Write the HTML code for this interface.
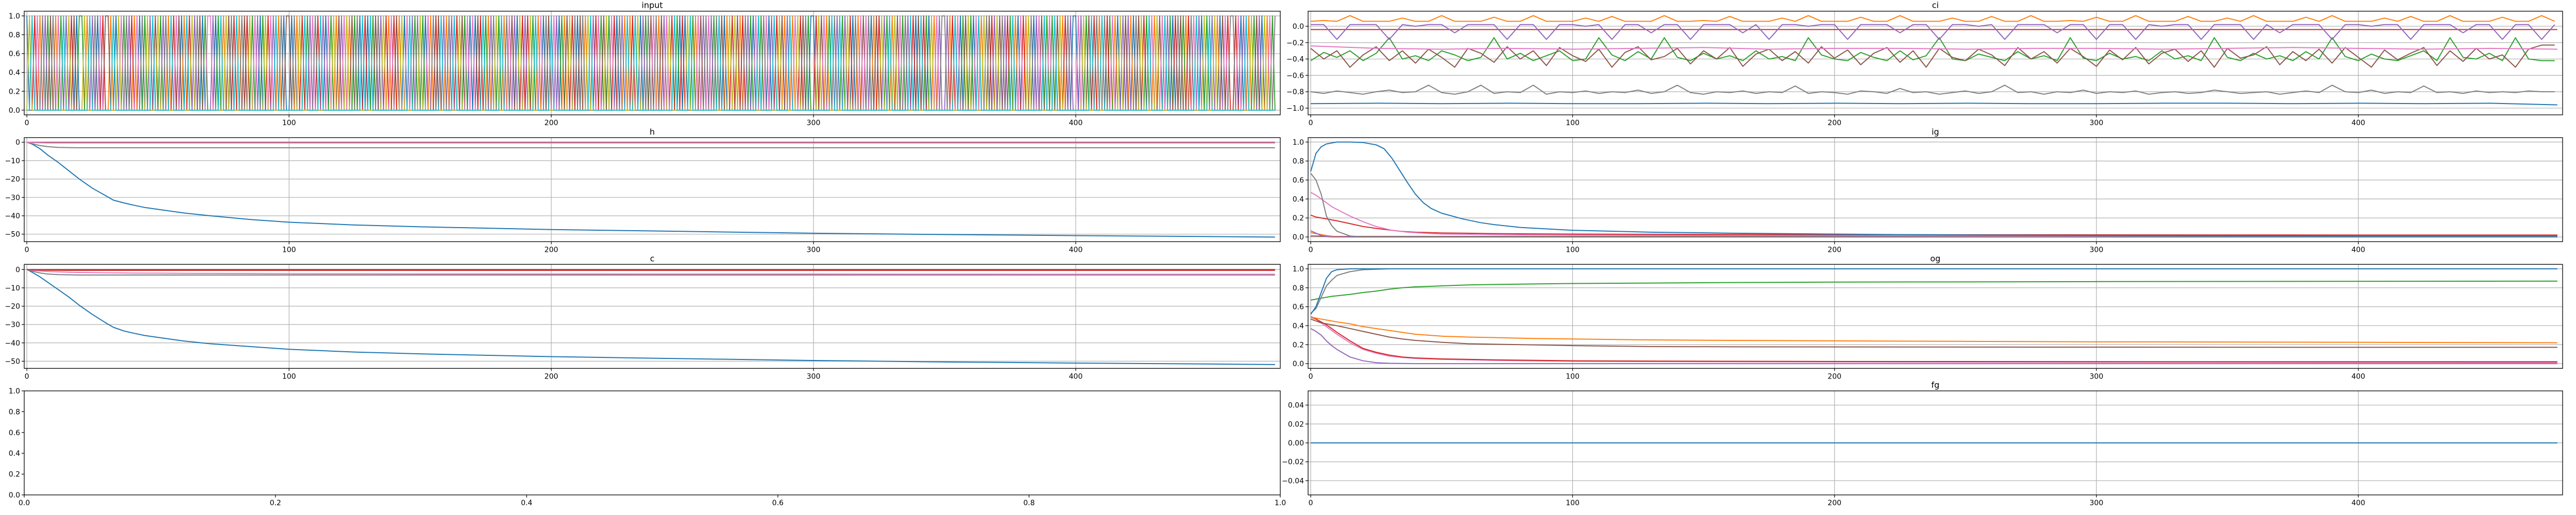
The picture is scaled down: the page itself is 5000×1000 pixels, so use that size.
<!DOCTYPE html>
<html><head><meta charset="utf-8"><style>
html,body{margin:0;padding:0;background:#fff;}
svg{display:block;font-family:"DejaVu Sans","Liberation Sans",sans-serif;}
</style></head>
<body>
<svg id="fig" width="5000" height="1000" viewBox="0 0 5000 1000" xmlns="http://www.w3.org/2000/svg"></svg>
<script>
// ---------- data ----------
const xTicksSteps = [0,100,200,300,400];
const inputIdx = ("0893617425716294835022819470635519086274316072849582471936501938475026640291857391753826402836491705"+
"5071839246739406281546815270930925748316351806942782061735941749385260605392147829176540834382916075"+
"9640215837057189436258263074191398042756715468392030892165476427950183851374206927604938514916835720"+
"0385612974924830716567015384291856274930593208164774139602582069187534857432910631870465926295813740"+
"06482593719732610845410758329618569420375213769408294810563773604918254081627359").slice(0,477).split("").map(Number);
const inputChannels = [0,1,2,3,4,5,6,7,8,9];

const ciStep = 5;
const ciOrange = [0.06,0.07,0.06,0.13,0.06,0.06,0.06,0.10,0.06,0.06,0.13,0.06,0.06,0.06,0.11,0.06,0.06,0.13,0.06,0.06,0.06,0.10,0.06,0.12,0.06,0.06,0.06,0.13,0.06,0.06,0.07,0.06,0.12,0.06,0.06,0.06,0.10,0.06,0.13,0.06,0.06,0.06,0.11,0.06,0.06,0.13,0.06,0.06,0.06,0.10,0.06,0.06,0.12,0.06,0.06,0.13,0.06,0.06,0.07,0.06,0.11,0.06,0.06,0.13,0.06,0.06,0.06,0.12,0.06,0.06,0.10,0.06,0.13,0.06,0.06,0.06,0.11,0.06,0.13,0.06,0.06,0.06,0.10,0.06,0.12,0.06,0.06,0.13,0.06,0.06,0.06,0.11,0.06,0.06,0.13,0.06];
const ciPurple = [0.02,0.02,-0.16,0.02,0.02,0.02,-0.16,0.02,0.0,0.02,0.02,-0.08,0.02,0.02,0.02,-0.16,0.02,0.02,-0.16,0.02,0.02,0.0,0.02,-0.16,0.02,0.02,-0.08,0.02,0.02,-0.16,0.02,0.02,0.02,-0.08,0.02,-0.16,0.02,0.02,0.0,0.02,0.02,-0.16,0.02,0.02,0.02,-0.08,0.02,0.02,-0.16,0.02,0.02,0.0,0.02,-0.16,0.02,0.02,0.02,-0.08,0.02,0.02,-0.16,0.02,0.02,-0.16,0.02,0.0,0.02,0.02,-0.16,0.02,0.02,0.02,-0.16,0.02,-0.08,0.02,0.02,0.02,-0.16,0.02,0.02,0.0,0.02,0.02,-0.16,0.02,0.02,0.02,-0.08,0.02,0.02,-0.16,0.02,0.02,-0.16,0.02];
const ciBrown = [-0.27,-0.40,-0.30,-0.50,-0.35,-0.25,-0.42,-0.30,-0.45,-0.28,-0.38,-0.50,-0.27,-0.33,-0.44,-0.25,-0.40,-0.30,-0.48,-0.26,-0.36,-0.43,-0.28,-0.50,-0.32,-0.25,-0.41,-0.37,-0.27,-0.46,-0.30,-0.40,-0.26,-0.49,-0.34,-0.28,-0.42,-0.31,-0.45,-0.25,-0.39,-0.29,-0.47,-0.33,-0.26,-0.44,-0.30,-0.50,-0.27,-0.38,-0.42,-0.28,-0.35,-0.48,-0.26,-0.40,-0.31,-0.45,-0.27,-0.37,-0.49,-0.29,-0.41,-0.26,-0.46,-0.33,-0.28,-0.43,-0.30,-0.50,-0.27,-0.39,-0.35,-0.25,-0.47,-0.31,-0.42,-0.28,-0.45,-0.26,-0.38,-0.50,-0.29,-0.41,-0.33,-0.26,-0.48,-0.30,-0.43,-0.27,-0.40,-0.35,-0.50,-0.28,-0.23,-0.23];
const ciGreen = [-0.42,-0.32,-0.38,-0.30,-0.42,-0.33,-0.14,-0.40,-0.36,-0.42,-0.30,-0.35,-0.42,-0.38,-0.14,-0.40,-0.33,-0.42,-0.36,-0.30,-0.42,-0.40,-0.14,-0.35,-0.42,-0.31,-0.40,-0.14,-0.38,-0.42,-0.33,-0.40,-0.36,-0.42,-0.30,-0.40,-0.37,-0.42,-0.14,-0.35,-0.40,-0.42,-0.32,-0.38,-0.42,-0.30,-0.41,-0.36,-0.14,-0.40,-0.42,-0.34,-0.38,-0.42,-0.31,-0.40,-0.36,-0.42,-0.14,-0.39,-0.42,-0.33,-0.40,-0.37,-0.42,-0.30,-0.40,-0.36,-0.42,-0.14,-0.38,-0.42,-0.33,-0.40,-0.36,-0.42,-0.31,-0.40,-0.14,-0.37,-0.42,-0.34,-0.40,-0.42,-0.36,-0.30,-0.42,-0.14,-0.38,-0.40,-0.33,-0.42,-0.14,-0.40,-0.42,-0.42];
const ciGray = [-0.80,-0.82,-0.79,-0.81,-0.83,-0.80,-0.78,-0.81,-0.80,-0.72,-0.81,-0.83,-0.80,-0.72,-0.82,-0.80,-0.81,-0.72,-0.83,-0.80,-0.81,-0.79,-0.82,-0.80,-0.81,-0.78,-0.82,-0.80,-0.72,-0.81,-0.83,-0.80,-0.81,-0.79,-0.82,-0.80,-0.81,-0.73,-0.82,-0.80,-0.81,-0.83,-0.79,-0.80,-0.82,-0.76,-0.81,-0.80,-0.83,-0.81,-0.79,-0.82,-0.80,-0.72,-0.81,-0.80,-0.83,-0.80,-0.81,-0.78,-0.82,-0.80,-0.81,-0.79,-0.83,-0.81,-0.80,-0.82,-0.81,-0.78,-0.80,-0.82,-0.81,-0.80,-0.83,-0.81,-0.79,-0.81,-0.72,-0.80,-0.81,-0.78,-0.82,-0.80,-0.81,-0.73,-0.81,-0.80,-0.82,-0.79,-0.81,-0.80,-0.81,-0.79,-0.80,-0.80];
const ciSlowStep = 25;
const ciPink = [-0.24,-0.27,-0.28,-0.27,-0.28,-0.27,-0.26,-0.28,-0.27,-0.27,-0.28,-0.27,-0.27,-0.28,-0.27,-0.26,-0.27,-0.28,-0.27,-0.28];
const ciRed = [-0.04,-0.04,-0.04,-0.04,-0.04,-0.04,-0.04,-0.04,-0.04,-0.04,-0.04,-0.04,-0.04,-0.04,-0.04,-0.04,-0.04,-0.04,-0.04,-0.04];
const ciBlue = [-0.945,-0.94,-0.945,-0.94,-0.945,-0.945,-0.94,-0.945,-0.94,-0.945,-0.94,-0.945,-0.945,-0.94,-0.94,-0.945,-0.94,-0.945,-0.94,-0.96];

const hX = [0,2,5,8,12,16,20,25,30,33,37,40,45,50,60,70,85,100,125,150,200,250,300,350,400,450,476];
const hBlue = [0,-1,-3.5,-7,-11,-15.5,-20,-25,-29,-31.5,-33,-34,-35.5,-36.5,-38.5,-40,-42,-43.5,-45,-46,-47.5,-48.5,-49.5,-50.2,-50.8,-51.3,-51.6];
const hGray = [0,-0.8,-1.8,-2.4,-2.8,-2.9,-3,-3,-3,-3,-3,-3,-3,-3,-3,-3,-3,-3,-3,-3,-3,-3,-3,-3,-3,-3,-3];
const hPink = [0,-0.2,-0.3,-0.4,-0.4,-0.4,-0.4,-0.4,-0.4,-0.4,-0.4,-0.4,-0.4,-0.4,-0.4,-0.4,-0.4,-0.4,-0.4,-0.4,-0.4,-0.4,-0.4,-0.4,-0.4,-0.4,-0.4];
const hBrown = [0,0,0,0,0,0,0,0,0,0,0,0,0,0,0,0,0,0,0,0,0,0,0,0,0,0,0];

const cBlue = [0,-1.5,-4,-7,-11,-15,-19.5,-24.5,-29,-31.5,-33.5,-34.5,-36,-37,-39,-40.5,-42,-43.5,-45,-46,-47.5,-48.6,-49.6,-50.4,-51,-51.5,-51.8];
const cGray = [0,-0.9,-1.9,-2.5,-2.8,-2.9,-3,-3,-3,-3,-3,-3,-3,-3,-3,-3,-3,-3,-3,-3,-3,-3,-3,-3,-3,-3,-3];
const cPink = [0,-0.4,-0.8,-1.1,-1.3,-1.5,-1.6,-1.7,-1.8,-1.85,-1.9,-1.95,-2,-2,-2.1,-2.15,-2.2,-2.3,-2.35,-2.4,-2.45,-2.5,-2.5,-2.55,-2.6,-2.6,-2.6];
const cRed = [0,-0.2,-0.3,-0.4,-0.45,-0.5,-0.5,-0.5,-0.5,-0.5,-0.5,-0.5,-0.5,-0.5,-0.5,-0.5,-0.5,-0.5,-0.5,-0.5,-0.5,-0.5,-0.5,-0.5,-0.5,-0.5,-0.5];
const cBrown = [0,0,0,0,0,0,0,0,0,0,0,0,0,0,0,0,0,0,0,0,0,0,0,0,0,0,0];

const igX = [0,2,4,6,8,10,15,20,25,28,31,34,37,40,43,46,50,58,65,70,80,100,130,160,200,250,300,350,400,476];
const igBlue = [0.69,0.88,0.95,0.98,0.99,1.0,1.0,0.995,0.97,0.93,0.83,0.70,0.57,0.45,0.36,0.30,0.25,0.19,0.15,0.13,0.10,0.07,0.05,0.04,0.03,0.02,0.015,0.012,0.01,0.01];
const igGray = [0.67,0.6,0.45,0.22,0.12,0.06,0.01,0,0,0,0,0,0,0,0,0,0,0,0,0,0,0,0,0,0,0,0,0,0,0];
const igPink = [0.47,0.44,0.40,0.36,0.32,0.29,0.22,0.16,0.11,0.09,0.07,0.06,0.05,0.045,0.04,0.035,0.03,0.028,0.026,0.025,0.022,0.02,0.018,0.016,0.014,0.012,0.011,0.01,0.01,0.01];
const igRed = [0.23,0.21,0.2,0.19,0.18,0.17,0.14,0.11,0.09,0.08,0.07,0.06,0.055,0.05,0.048,0.045,0.042,0.04,0.037,0.035,0.033,0.03,0.028,0.026,0.025,0.023,0.022,0.021,0.02,0.02];
const igPurple = [0.065,0.04,0.015,0.005,0,0,0,0,0,0,0,0,0,0,0,0,0,0,0,0,0,0,0,0,0,0,0,0,0,0];
const igOrange = [0.045,0.035,0.025,0.015,0.008,0.004,0,0,0,0,0,0,0,0,0,0,0,0,0,0,0,0,0,0,0,0,0,0,0,0];
const igBrown = [0.01,0.01,0.008,0.006,0.005,0.005,0.005,0.005,0.005,0.005,0.005,0.005,0.005,0.005,0.005,0.005,0.005,0.005,0.005,0.005,0.005,0.005,0.005,0.005,0.005,0.005,0.005,0.005,0.005,0.005];

const ogX = [0,2,4,6,8,10,15,20,25,30,35,40,50,60,70,85,100,130,160,200,250,300,350,400,476];
const ogBlue = [0.52,0.6,0.75,0.9,0.97,0.99,1,1,1,1,1,1,1,1,1,1,1,1,1,1,1,1,1,1,1];
const ogGray = [0.53,0.58,0.7,0.82,0.88,0.93,0.97,0.99,0.995,1,1,1,1,1,1,1,1,1,1,1,1,1,1,1,1];
const ogGreen = [0.67,0.68,0.69,0.7,0.71,0.715,0.73,0.75,0.765,0.785,0.8,0.81,0.82,0.83,0.835,0.84,0.845,0.85,0.855,0.86,0.862,0.865,0.867,0.868,0.87];
const ogOrange = [0.49,0.48,0.47,0.46,0.45,0.44,0.42,0.39,0.37,0.35,0.33,0.31,0.29,0.28,0.275,0.265,0.26,0.25,0.245,0.24,0.235,0.23,0.228,0.225,0.22];
const ogBrown = [0.47,0.45,0.43,0.42,0.41,0.4,0.37,0.34,0.31,0.28,0.26,0.245,0.225,0.21,0.205,0.198,0.19,0.18,0.178,0.176,0.175,0.174,0.173,0.172,0.172];
const ogRed = [0.49,0.47,0.44,0.41,0.37,0.33,0.24,0.16,0.12,0.09,0.07,0.06,0.05,0.045,0.04,0.035,0.03,0.027,0.025,0.023,0.022,0.021,0.02,0.02,0.02];
const ogPink = [0.5,0.47,0.43,0.39,0.35,0.31,0.22,0.15,0.11,0.08,0.065,0.055,0.045,0.04,0.035,0.03,0.025,0.022,0.02,0.018,0.016,0.015,0.014,0.013,0.012];
const ogPurple = [0.37,0.34,0.3,0.24,0.19,0.15,0.07,0.03,0.01,0.004,0.002,0,0,0,0,0,0,0,0,0,0,0,0,0,0];

const fgX = [0,476];
const fgBlue = [0,0];

// ---------- helpers ----------
const C = {blue:"#1f77b4",orange:"#ff7f0e",green:"#2ca02c",red:"#d62728",purple:"#9467bd",brown:"#8c564b",pink:"#e377c2",gray:"#7f7f7f",olive:"#bcbd22",cyan:"#17becf"};
const tab = [C.blue,C.orange,C.green,C.red,C.purple,C.brown,C.pink,C.gray,C.olive,C.cyan];
const NS = "http://www.w3.org/2000/svg";
const svg = document.getElementById("fig");
function mk(tag, attrs, parent){const e=document.createElementNS(NS,tag);for(const k in attrs)e.setAttribute(k,attrs[k]);(parent||svg).appendChild(e);return e;}
const COLS = [[47,2485],[2539,4974]];
const ROWS = [[21.7,223],[267.3,469.3],[513.3,715.3],[759,961]];
function fmt(v,d){const s=Math.abs(v).toFixed(d);return (v<0?"\u2212":"")+s;}
function panel(name,col,row,xlim,ylim,xticks,xd,yticks,yd,title,noGrid){
  const [x0,x1]=COLS[col],[y0,y1]=ROWS[row];
  const g=mk("g",{});
  
  
  const sx=v=>x0+(v-xlim[0])/(xlim[1]-xlim[0])*(x1-x0);
  const sy=v=>y1-(v-ylim[0])/(ylim[1]-ylim[0])*(y1-y0);
  const grid=mk("g",{},g);
  
  
  xticks.forEach(t=>{const X=sx(t);
    if(!noGrid) mk("line",{x1:X,x2:X,y1:y0,y2:y1,stroke:"#b0b0b0","stroke-width":1.2},grid);
    mk("line",{x1:X,x2:X,y1:y1,y2:y1+5,stroke:"#000","stroke-width":1.2},g);
    const tx=mk("text",{x:X,y:y1+20,"font-size":14,"text-anchor":"middle",fill:"#000"},g);tx.textContent=fmt(t,xd);
    
    
  });
  yticks.forEach(t=>{const Y=sy(t);
    if(!noGrid) mk("line",{x1:x0,x2:x1,y1:Y,y2:Y,stroke:"#b0b0b0","stroke-width":1.2},grid);
    mk("line",{x1:x0-5,x2:x0,y1:Y,y2:Y,stroke:"#000","stroke-width":1.2},g);
    const tx=mk("text",{x:x0-8,y:Y+5,"font-size":14,"text-anchor":"end",fill:"#000"},g);tx.textContent=fmt(t,yd);
    
    
  });
  const clipId="clip-"+name;
  const cp=mk("clipPath",{id:clipId},g);mk("rect",{x:x0,y:y0,width:x1-x0,height:y1-y0},cp);
  const series=mk("g",{"clip-path":"url(#"+clipId+")"},g);
  
  
  const frame=mk("rect",{x:x0,y:y0,width:x1-x0,height:y1-y0,fill:"none",stroke:"#000","stroke-width":1.3},g);
  
  
  if(title){const t=mk("text",{x:(x0+x1)/2,y:y0-6,"font-size":16,"text-anchor":"middle",fill:"#000"},g);t.textContent=title;
    
    }
  return {sx,sy,series};
}
function line(P,xs,ys,color,name,w){
  const d=xs.map((x,i)=>(i?"L":"M")+P.sx(x).toFixed(2)+" "+P.sy(ys[i]).toFixed(2)).join("");
  const p=mk("path",{d:d,fill:"none",stroke:color,"stroke-width":w||2,"stroke-linejoin":"round"},P.series);
  
  
}
const steps=(arr,st)=>arr.map((_,i)=>Math.min(i*st,476));
const XL=[-1,478];

// input
const pIn=panel("input",0,0,XL,[-0.05,1.05],xTicksSteps,0,[0,0.2,0.4,0.6,0.8,1.0],1,"input");
const tIdx=inputIdx.map((_,i)=>i);
inputChannels.forEach(ch=>{
  line(pIn,tIdx,inputIdx.map(v=>v===ch?1:0),tab[ch],"input-channel-"+ch,1.8);
});
// ci
const pCi=panel("ci",1,0,XL,[-1.082,0.184],xTicksSteps,0,[-1.0,-0.8,-0.6,-0.4,-0.2,0.0],1,"ci");
line(pCi,steps(ciBlue,ciSlowStep).map((x,i,a)=>i===a.length-1?476:x),ciBlue,C.blue,"ci-blue-line");
line(pCi,steps(ciGray,ciStep),ciGray,C.gray,"ci-gray-line");
line(pCi,steps(ciGreen,ciStep),ciGreen,C.green,"ci-green-line");
line(pCi,steps(ciBrown,ciStep),ciBrown,C.brown,"ci-brown-line");
line(pCi,steps(ciPink,ciSlowStep).map((x,i,a)=>i===a.length-1?476:x),ciPink,C.pink,"ci-pink-line");
line(pCi,steps(ciRed,ciSlowStep).map((x,i,a)=>i===a.length-1?476:x),ciRed,C.red,"ci-red-line");
line(pCi,steps(ciPurple,ciStep),ciPurple,C.purple,"ci-purple-line");
line(pCi,steps(ciOrange,ciStep),ciOrange,C.orange,"ci-orange-line");
// h
const pH=panel("h",0,1,XL,[-54.1,2.5],xTicksSteps,0,[-50,-40,-30,-20,-10,0],0,"h");
line(pH,hX,hBlue,C.blue,"h-blue-line");
line(pH,hX,hGray,C.gray,"h-gray-line");
line(pH,hX,hBrown,C.brown,"h-brown-line");
line(pH,hX,hPink,C.pink,"h-pink-line");
// ig
const pIg=panel("ig",1,1,XL,[-0.05,1.046],xTicksSteps,0,[0,0.2,0.4,0.6,0.8,1.0],1,"ig");
line(pIg,igX,igBrown,C.brown,"ig-brown-line");
line(pIg,igX,igOrange,C.orange,"ig-orange-line");
line(pIg,igX,igPurple,C.purple,"ig-purple-line");
line(pIg,igX,igRed,C.red,"ig-red-line");
line(pIg,igX,igPink,C.pink,"ig-pink-line");
line(pIg,igX,igGray,C.gray,"ig-gray-line");
line(pIg,igX,igBlue,C.blue,"ig-blue-line");
// c
const pC=panel("c",0,2,XL,[-53.9,2.8],xTicksSteps,0,[-50,-40,-30,-20,-10,0],0,"c");
line(pC,hX,cBlue,C.blue,"c-blue-line");
line(pC,hX,cGray,C.gray,"c-gray-line");
line(pC,hX,cPink,C.pink,"c-pink-line");
line(pC,hX,cRed,C.red,"c-red-line");
line(pC,hX,cBrown,C.brown,"c-brown-line");
// og
const pOg=panel("og",1,2,XL,[-0.05,1.047],xTicksSteps,0,[0,0.2,0.4,0.6,0.8,1.0],1,"og");
line(pOg,ogX,ogPurple,C.purple,"og-purple-line");
line(pOg,ogX,ogPink,C.pink,"og-pink-line");
line(pOg,ogX,ogRed,C.red,"og-red-line");
line(pOg,ogX,ogBrown,C.brown,"og-brown-line");
line(pOg,ogX,ogOrange,C.orange,"og-orange-line");
line(pOg,ogX,ogGreen,C.green,"og-green-line");
line(pOg,ogX,ogGray,C.gray,"og-gray-line");
line(pOg,ogX,ogBlue,C.blue,"og-blue-line");
// empty
panel("empty",0,3,[0,1],[0,1],[0,0.2,0.4,0.6,0.8,1.0],1,[0,0.2,0.4,0.6,0.8,1.0],1,"",true);
// fg
const pFg=panel("fg",1,3,XL,[-0.055,0.055],xTicksSteps,0,[-0.04,-0.02,0,0.02,0.04],2,"fg");
line(pFg,fgX,fgBlue,C.blue,"fg-blue-line");
</script>
</body></html>
